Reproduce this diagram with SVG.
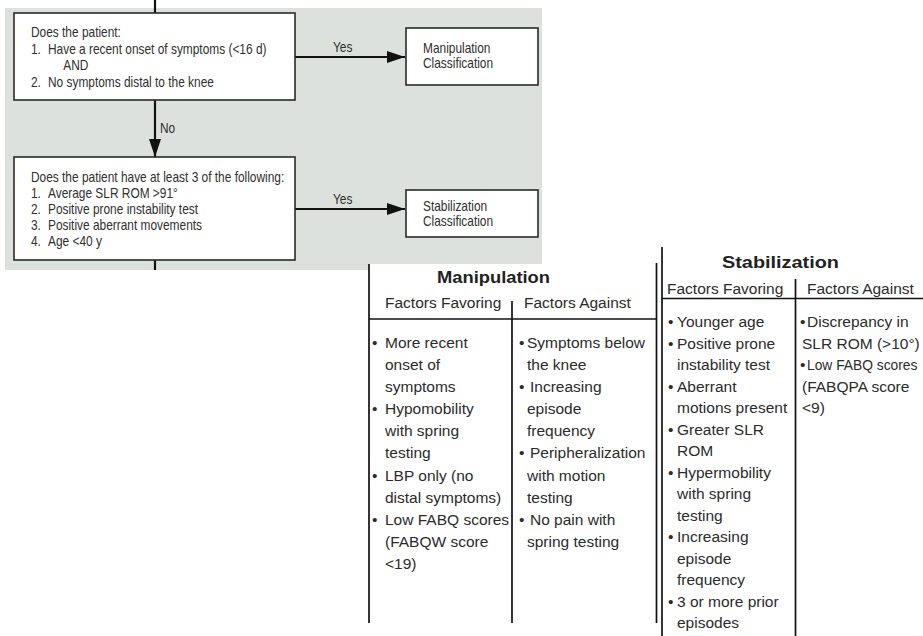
<svg xmlns="http://www.w3.org/2000/svg" width="923" height="636" viewBox="0 0 923 636">
<defs>
<marker id="ah" markerUnits="userSpaceOnUse" markerWidth="18" markerHeight="12" refX="18" refY="6" orient="auto">
<path d="M0,0 L18,6 L0,12 z" fill="#111"/>
</marker>
<style>
.fc{font-family:"Liberation Sans",Arial,sans-serif;font-size:14px;fill:#2f2f2f}
.box{fill:#fff;stroke:#2a2a2a;stroke-width:1.6}
.con{stroke:#111;stroke-width:2.2;fill:none}
.tl{stroke:#111;stroke-width:1.7;fill:none}
.tt{font-family:"Liberation Sans",Arial,sans-serif;font-size:15.5px;fill:#2b2b2b}
.th{font-family:"Liberation Sans",Arial,sans-serif;font-size:17px;font-weight:bold;fill:#222}
</style>
</defs>
<rect x="0" y="0" width="923" height="636" fill="#fff"/>
<rect x="5" y="8" width="537" height="262" fill="#dde1dd"/>
<rect x="369" y="264" width="288" height="8" fill="#fff"/>

<g id="connectors">
<line class="con" x1="155" y1="0" x2="155" y2="13"/>
<line class="con" x1="295" y1="57" x2="405" y2="57" marker-end="url(#ah)"/>
<line class="con" x1="155" y1="100" x2="155" y2="157" marker-end="url(#ah)"/>
<line class="con" x1="295" y1="209" x2="405" y2="209" marker-end="url(#ah)"/>
<line class="con" x1="155" y1="260" x2="155" y2="270"/>
<g class="fc">
<text transform="translate(333 52) scale(0.85 1)">Yes</text>
<text transform="translate(333 204) scale(0.85 1)">Yes</text>
<text transform="translate(160 133) scale(0.85 1)">No</text>
</g>
</g>

<g id="q1">
<rect class="box" x="14" y="13" width="281" height="87"/>
<g class="fc" transform="translate(31 0) scale(0.85 1)">
<text x="0" y="37">Does the patient:</text>
<text x="0" y="54">1.<tspan x="20">Have a recent onset of symptoms (&lt;16 d)</tspan></text>
<text x="38" y="70">AND</text>
<text x="0" y="87">2.<tspan x="20">No symptoms distal to the knee</tspan></text>
</g>
</g>

<g id="manip-class">
<rect class="box" x="406" y="28" width="132" height="57"/>
<g class="fc" transform="translate(423 0) scale(0.85 1)">
<text x="0" y="53">Manipulation</text>
<text x="0" y="68">Classification</text>
</g>
</g>

<g id="q2">
<rect class="box" x="14" y="157" width="281" height="103"/>
<g class="fc" transform="translate(31 0) scale(0.85 1)">
<text x="0" y="182">Does the patient have at least 3 of the following:</text>
<text x="0" y="198">1.<tspan x="20">Average SLR ROM &gt;91°</tspan></text>
<text x="0" y="214">2.<tspan x="20">Positive prone instability test</tspan></text>
<text x="0" y="230">3.<tspan x="20">Positive aberrant movements</tspan></text>
<text x="0" y="246">4.<tspan x="20">Age &lt;40 y</tspan></text>
</g>
</g>

<g id="stab-class">
<rect class="box" x="406" y="190" width="132" height="47"/>
<g class="fc" transform="translate(423 0) scale(0.85 1)">
<text x="0" y="211">Stabilization</text>
<text x="0" y="226">Classification</text>
</g>
</g>

<g id="manip-table">
<line class="tl" x1="369" y1="264" x2="369" y2="623"/>
<line class="tl" x1="656.5" y1="263" x2="656.5" y2="623"/>
<line class="tl" x1="369" y1="319" x2="656.5" y2="319"/>
<line class="tl" x1="512" y1="301" x2="512" y2="623"/>
<text class="th" x="437" y="283" textLength="113" lengthAdjust="spacingAndGlyphs">Manipulation</text>
<g class="tt">
<text x="385" y="308">Factors Favoring</text>
<text x="524" y="308">Factors Against</text>
<text x="372" y="348">•</text><text x="385" y="348">More recent</text>
<text x="385" y="370">onset of</text>
<text x="385" y="392">symptoms</text>
<text x="372" y="414">•</text><text x="385" y="414">Hypomobility</text>
<text x="385" y="436">with spring</text>
<text x="385" y="458">testing</text>
<text x="372" y="481">•</text><text x="385" y="481">LBP only (no</text>
<text x="385" y="503">distal symptoms)</text>
<text x="372" y="525">•</text><text x="385" y="525">Low FABQ scores</text>
<text x="385" y="547">(FABQW score</text>
<text x="385" y="569">&lt;19)</text>
<text x="519" y="348">•</text><text x="527" y="348">Symptoms below</text>
<text x="527" y="370">the knee</text>
<text x="519" y="392">•</text><text x="530" y="392">Increasing</text>
<text x="527" y="414">episode</text>
<text x="527" y="436">frequency</text>
<text x="519" y="458">•</text><text x="530" y="458">Peripheralization</text>
<text x="527" y="481">with motion</text>
<text x="527" y="503">testing</text>
<text x="519" y="525">•</text><text x="530" y="525">No pain with</text>
<text x="527" y="547">spring testing</text>
</g>
</g>

<g id="stab-table">
<line class="tl" x1="662" y1="247" x2="662" y2="636"/>
<line class="tl" x1="662" y1="298.5" x2="923" y2="298.5"/>
<line class="tl" x1="795.5" y1="279" x2="795.5" y2="636"/>
<text class="th" x="722" y="268" textLength="117" lengthAdjust="spacingAndGlyphs">Stabilization</text>
<g class="tt">
<text x="667" y="294">Factors Favoring</text>
<text x="807" y="294">Factors Against</text>
<text x="668" y="327">•</text><text x="677" y="327">Younger age</text>
<text x="668" y="348.5">•</text><text x="677" y="348.5">Positive prone</text>
<text x="677" y="370">instability test</text>
<text x="668" y="391.5">•</text><text x="677" y="391.5">Aberrant</text>
<text x="677" y="413">motions present</text>
<text x="668" y="434.5">•</text><text x="677" y="434.5">Greater SLR</text>
<text x="677" y="456">ROM</text>
<text x="668" y="477.5">•</text><text x="677" y="477.5">Hypermobility</text>
<text x="677" y="499">with spring</text>
<text x="677" y="520.5">testing</text>
<text x="668" y="542">•</text><text x="677" y="542">Increasing</text>
<text x="677" y="563.5">episode</text>
<text x="677" y="585">frequency</text>
<text x="668" y="606.5">•</text><text x="677" y="606.5">3 or more prior</text>
<text x="677" y="628">episodes</text>
<text x="800" y="327">•</text><text x="807" y="327">Discrepancy in</text>
<text x="802" y="348.5">SLR ROM (&gt;10°)</text>
<text x="800" y="370">•</text><text x="807" y="370" style="font-size:13.8px">Low FABQ scores</text>
<text x="802" y="391.5">(FABQPA score</text>
<text x="802" y="413">&lt;9)</text>
</g>
</g>
</svg>
